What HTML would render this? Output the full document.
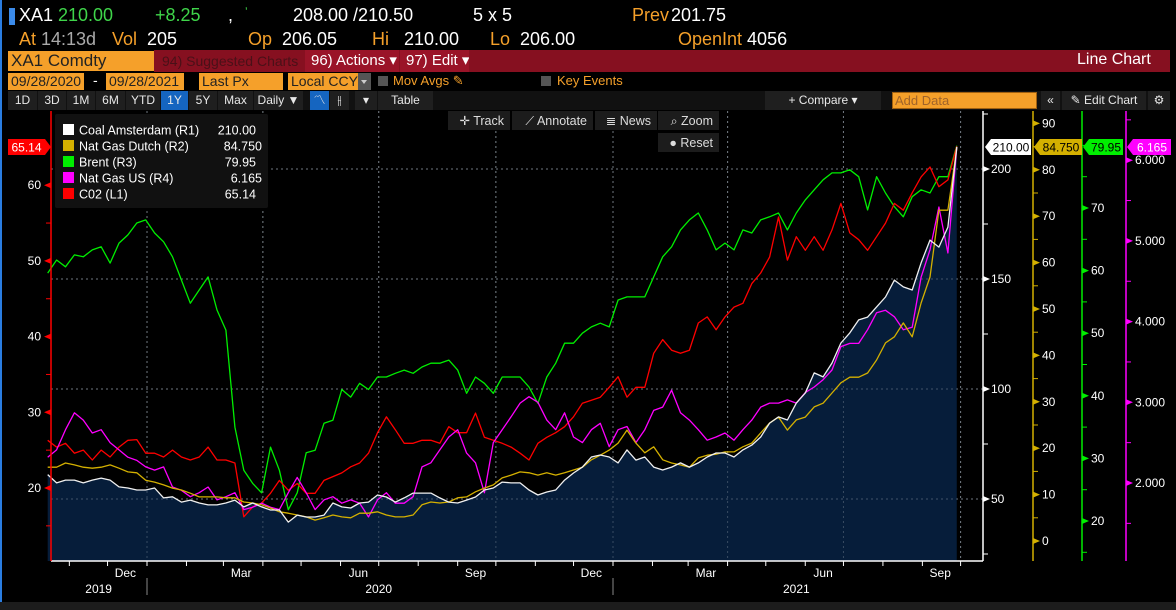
<!DOCTYPE html>
<html><head><meta charset="utf-8">
<style>
body{margin:0;background:#000;width:1176px;height:610px;overflow:hidden;position:relative;font-family:"Liberation Sans",sans-serif;}
.t{position:absolute;white-space:nowrap;}
.o{color:#f5a02a}.w{color:#fff}.g{color:#3fd54a}
.r1{font-size:18px;top:5px}
.r2{font-size:18px;top:29px}
.btn{position:absolute;top:91px;height:19px;background:#1f1f1f;color:#e8e8e8;font-size:12px;line-height:19px;text-align:center}
.ob{position:absolute;background:#f5a02a;color:#222;font-size:14px;line-height:17px;padding-left:3px;box-sizing:border-box;overflow:hidden;white-space:nowrap}
</style></head><body>
<div style="position:absolute;left:0;top:0;width:2px;height:602px;background:#2a7de1"></div>
<div style="position:absolute;left:9px;top:8px;width:6px;height:17px;background:#3b8bea"></div>
<div class="t r1 w" style="left:19px">XA1</div>
<div class="t r1 g" style="left:58px">210.00</div>
<div class="t r1 g" style="left:155px">+8.25</div>
<div class="t r1 w" style="left:228px">,</div>
<div class="t r1 g" style="left:245px;font-size:12px">ʼ</div>
<div class="t r1 w" style="left:293px">208.00 /210.50</div>
<div class="t r1 w" style="left:473px">5 x 5</div>
<div class="t r1 o" style="left:632px">Prev</div>
<div class="t r1 w" style="left:671px">201.75</div>
<div class="t r2 o" style="left:19px">At <span style="color:#aaa">14:13d</span></div>
<div class="t r2 o" style="left:112px">Vol <span class="w">&nbsp;205</span></div>
<div class="t r2 o" style="left:248px">Op <span class="w">&nbsp;206.05</span></div>
<div class="t r2 o" style="left:372px">Hi <span class="w">&nbsp;&nbsp;210.00</span></div>
<div class="t r2 o" style="left:490px">Lo <span class="w">&nbsp;206.00</span></div>
<div class="t r2 o" style="left:678px">OpenInt <span class="w">4056</span></div>

<div style="position:absolute;left:154px;top:50px;width:1016px;height:22px;background:#861020"></div>
<div class="ob" style="left:8px;top:51px;width:146px;height:20px;font-size:17px;line-height:20px">XA1 Comdty</div>
<div class="t" style="left:162px;top:53px;font-size:14px;color:#4a1018">94) Suggested Charts</div>
<div style="position:absolute;left:305px;top:50px;width:94px;height:22px;background:#9a1428;color:#fff;font-size:15px;line-height:22px;padding-left:6px;box-sizing:border-box;white-space:nowrap;overflow:hidden">96) Actions ▾</div>
<div style="position:absolute;left:400px;top:50px;width:69px;height:22px;background:#9a1428;color:#fff;font-size:15px;line-height:22px;padding-left:6px;box-sizing:border-box;white-space:nowrap;overflow:hidden">97) Edit ▾</div>
<div class="t w" style="left:1077px;top:51px;font-size:16px">Line Chart</div>

<div class="ob" style="left:8px;top:73px;width:76px;height:17px">09/28/2020</div>
<div class="t" style="left:93px;top:72px;color:#fff;font-size:14px">-</div>
<div class="ob" style="left:106px;top:73px;width:78px;height:17px">09/28/2021</div>
<div class="ob" style="left:199px;top:73px;width:84px;height:17px">Last Px</div>
<div class="ob" style="left:288px;top:73px;width:70px;height:17px">Local CCY</div>
<div style="position:absolute;left:358px;top:73px;width:13px;height:17px;background:#555"><div style="position:absolute;left:3px;top:7px;width:0;height:0;border-left:3px solid transparent;border-right:3px solid transparent;border-top:4px solid #ccc"></div></div>
<div style="position:absolute;left:378px;top:76px;width:10px;height:10px;background:#555"></div>
<div class="t o" style="left:393px;top:73px;font-size:13px">Mov Avgs ✎</div>
<div style="position:absolute;left:541px;top:76px;width:10px;height:10px;background:#555"></div>
<div class="t o" style="left:557px;top:73px;font-size:13px">Key Events</div>

<div style="position:absolute;left:8px;top:91px;width:1162px;height:19px;background:#111"></div>
<div class="btn" style="left:8px;width:29px">1D</div>
<div class="btn" style="left:38px;width:28px">3D</div>
<div class="btn" style="left:67px;width:28px">1M</div>
<div class="btn" style="left:96px;width:29px">6M</div>
<div class="btn" style="left:126px;width:34px">YTD</div>
<div class="btn" style="left:161px;width:27px;background:#1565c0">1Y</div>
<div class="btn" style="left:189px;width:28px">5Y</div>
<div class="btn" style="left:218px;width:35px">Max</div>
<div class="btn" style="left:254px;width:49px">Daily ▼</div>
<div class="btn" style="left:310px;width:19px;background:#1565c0">〽</div>
<div class="btn" style="left:330px;width:19px">⫲</div>
<div class="btn" style="left:355px;width:22px">▾</div>
<div class="btn" style="left:378px;width:55px">Table</div>
<div class="btn" style="left:765px;width:116px">+ Compare ▾</div>
<div style="position:absolute;left:892px;top:92px;width:145px;height:17px;background:#f5a02a;border:1px solid #a06010;box-sizing:border-box;color:#a0642a;font-size:13px;line-height:15px;padding-left:2px">Add Data</div>
<div class="btn" style="left:1041px;width:19px">«</div>
<div class="btn" style="left:1062px;width:84px">✎ Edit Chart</div>
<div class="btn" style="left:1148px;width:22px">⚙</div>

<svg id="chart" width="1176" height="610" style="position:absolute;left:0;top:0" font-family="Liberation Sans, sans-serif"></svg>

<div style="position:absolute;left:0;top:602px;width:1176px;height:8px;background:#1c1c1c"></div>

<script>
const weeks = Array.from({length:103},(_,i)=>i);
const coal = [61.1,57.3,58.6,58.6,57.3,58.6,59.5,58.6,55.5,55,54.1,54.1,55,50.5,51,48.6,49.5,48.2,47.3,47.3,48.2,49.5,46.4,48.2,46.4,45,45,39.5,42.7,41.8,41.8,42.7,48.2,46.4,45.9,48.2,48.6,51.8,50.9,48.6,50.5,52.7,52.7,52.7,50.5,48.6,48.2,49.5,50.9,54.1,55,57.7,57.3,57.3,54.1,51.8,53.2,54.1,58.6,61.8,64.5,69.1,70,69.1,66.4,72.3,67.7,69.1,64.5,63.2,64.5,66.4,64.5,66.4,69.1,70.9,70.9,69.1,72.3,74.5,78.2,84.5,87.3,85.9,93.6,98.2,107.3,105.5,111.8,120.9,125.5,131.4,132.7,137.3,141.8,149.5,146.4,145,157.3,167.7,164.5,173.6,210];
const gasDutch = [15.9,15.9,16.8,16.4,15.9,15.7,15.9,16.4,15.7,14.9,14.7,13.1,12.7,12.1,11.4,11,10.3,9.5,9.5,9.5,9.3,9.3,8.4,8.2,7.8,7.1,6.3,6,5.6,5.2,4.5,5,5.6,5.2,5,6,6,6.3,5.6,5.2,5.2,5.6,7.8,8.4,8.2,8.4,9.3,9.5,10.6,11.4,12.1,13.6,14.2,14.9,14.7,14.2,14.7,14.2,14.7,15.3,15.9,17.5,18.5,19.6,21.1,23.9,21.1,19,20.3,17.5,16.8,16.4,15.9,17.9,18.5,18.7,19.2,19.2,20.3,21.1,23.3,25.4,26.7,23.9,26.1,26.7,28.9,29.7,31.9,34.1,35.3,35.3,36.2,39,42.7,44,47,44,51.3,56.9,71.3,71.3,84.75];
const brent = [59.6,61.7,60.6,62.5,62.2,63.3,63.8,61.2,64.4,65.7,67.6,68.1,66,64.6,62.2,58.5,54.8,56.9,59,53.7,50.5,35,28.1,26,24.5,31.8,28.1,21.8,24.5,30.9,31.3,35.6,36.1,41,39.8,42,41,43,43,43.6,44.1,43.6,44.6,45.2,45.2,45.7,44.1,40.4,43,42,40.4,43,43,43,41.4,38.8,43,45.2,48.4,48.4,50,51,51.6,51,55.3,55.8,55.8,55.8,59,62.2,63.8,66.5,68.1,69.2,66.5,63.3,64.4,63.3,66.5,66,68.1,68.6,69.2,66.5,69.2,71.3,72.9,74.5,75.6,75.6,76.1,75,69.7,75,72.4,70.2,68.6,71.8,72.9,72.4,75,75,79.95];
const gasUS = [2.32,2.41,2.66,2.87,2.78,2.62,2.66,2.5,2.41,2.32,2.28,2.2,2.16,2.2,1.95,1.91,1.83,1.88,1.95,1.79,1.83,1.88,1.67,1.7,1.75,1.7,1.67,1.88,2.07,1.88,1.67,1.79,1.83,1.75,1.79,1.75,1.58,1.79,1.88,1.75,1.75,1.83,2.2,2.25,2.41,2.57,2.66,2.37,2.25,1.88,2.5,2.66,2.82,2.99,3.07,3.0,2.78,2.66,2.87,2.57,2.5,2.66,2.74,2.45,2.66,2.7,2.5,2.66,2.9,2.94,3.15,2.87,2.78,2.66,2.53,2.57,2.62,2.53,2.66,2.78,2.94,2.99,2.99,3.03,2.99,3.12,3.19,3.28,3.4,3.69,3.73,3.73,3.9,4.11,4.14,4.06,3.9,3.93,4.55,4.89,5.42,4.85,6.165];
const co2 = [26.3,25.4,25.9,24.6,25,23.7,25,24.1,25.4,26.3,26.4,24.6,24.6,24.1,25,24.1,23.7,24.1,25.4,23.7,23.7,23.3,16.2,17.5,18,19.3,21,19.7,20.6,19.3,19.3,21,21.5,22,22.8,23.3,24.6,27.3,29.4,27.7,25.9,25.9,26.3,26.3,25.9,28.1,27.3,27.3,29.9,26.7,26.3,25.9,25.4,24.6,23.7,25.9,26.7,27.3,28.1,29.4,31.2,31.6,32,33.3,34.7,32,33.3,33.3,37.8,39.6,38.2,37.8,38.2,41.8,42.6,40.9,42.6,43.9,44.4,47,48.4,50.5,55.8,50.1,53.2,51.4,53.2,51.4,54.1,57.6,53.7,52.8,51.4,53.2,55,57.6,56.7,59,61.1,62.4,59.8,60.7,65.14];
const monthLabels = ["Dec","Mar","Jun","Sep","Dec","Mar","Jun","Sep"];
const monthLabelDays = [61,152,244,336,427,517,609,701];
const yearLabels = ["2019","2020","2021"];
const yearLabelDays = [40,260,588];
const l1Ticks = [20,30,40,50,60];
const r1Ticks = [50,100,150,200];
const r2Ticks = [0,10,20,30,40,50,60,70,80,90];
const r3Ticks = [20,30,40,50,60,70];
const r4Ticks = [2,3,4,5,6];

const NS="http://www.w3.org/2000/svg";
const svg=document.getElementById('chart');
function mk(tag,attrs,parent){const e=document.createElementNS(NS,tag);for(const k in attrs)e.setAttribute(k,attrs[k]);(parent||svg).appendChild(e);return e;}
const X0=51,X1=983,Y0=111,YB=561;
const xDay=d=>47.7+d*1.2732;
const xW=w=>xDay(w*7);
const yL1=v=>488-(v-20)*7.57;
const yR1=v=>169+(200-v)*2.2;
const yR2=v=>541-v*4.64;
const yR3=v=>521-(v-20)*6.26;
const yR4=v=>483-(v-2)*80.7;

const monthStarts=[17,47,78,109,138,169,199,230,260,291,322,352,383,413,444,475,503,534,564,595,625,656,687,717];
const quarterDays=[78,169,260,352,444,534,625,717];
quarterDays.forEach(d=>{
 const l=mk('line',{x1:xDay(d),x2:xDay(d),y1:Y0,y2:YB,stroke:'#777','stroke-dasharray':'2,3','stroke-width':1});
 
 
});
r1Ticks.forEach(v=>{
 const l=mk('line',{x1:X0,x2:X1,y1:yR1(v),y2:yR1(v),stroke:'#777','stroke-dasharray':'2,3','stroke-width':1});
 
 
});

let ap='M'+xW(0)+','+YB;
weeks.forEach(w=>{ap+=' L'+xW(w).toFixed(1)+','+yR1(coal[w]).toFixed(1);});
ap+=' L'+xW(weeks.length-1)+','+YB+' Z';
const area=mk('path',{d:ap,fill:'#061d3a'});


r1Ticks.forEach(v=>{mk('line',{x1:X0,x2:X1,y1:yR1(v),y2:yR1(v),stroke:'#6a7a8a','stroke-dasharray':'2,3','stroke-width':1,opacity:0.6});});
quarterDays.forEach(d=>{mk('line',{x1:xDay(d),x2:xDay(d),y1:Y0,y2:YB,stroke:'#6a7a8a','stroke-dasharray':'2,3',opacity:0.5});});

function line(arr,fy,color,name){
 let d='';weeks.forEach(w=>{d+=(w?' L':'M')+xW(w).toFixed(1)+','+fy(arr[w]).toFixed(1);});
 const p=mk('path',{d:d,fill:'none',stroke:color,'stroke-width':1.3,'stroke-linejoin':'round'});
 
 
}
line(brent,yR3,'#00ee00','brent-line');
line(co2,yL1,'#ff0000','co2-line');
line(gasUS,yR4,'#ff00ff','nat-gas-us-line');
line(gasDutch,yR2,'#d4b000','nat-gas-dutch-line');
line(coal,yR1,'#f0f0f0','coal-line');

mk('line',{x1:X0,x2:X1,y1:YB,y2:YB,stroke:'#fff','stroke-width':1.5});
monthStarts.forEach(d=>{const t=mk('line',{x1:xDay(d),x2:xDay(d),y1:YB,y2:YB+5,stroke:'#fff'});
 
 });
monthLabels.forEach((m,i)=>{const t=mk('text',{x:xDay(monthLabelDays[i]),y:577,fill:'#fff','font-size':12,'text-anchor':'middle'});t.textContent=m;
 
 });
yearLabels.forEach((m,i)=>{const t=mk('text',{x:xDay(yearLabelDays[i]),y:593,fill:'#fff','font-size':12,'text-anchor':'middle'});t.textContent=m;
 
 });
[78,444].forEach(d=>mk('line',{x1:xDay(d),x2:xDay(d),y1:578,y2:595,stroke:'#888'}));

function axis(x,color,ticks,fy,minorStep,range,fmt,labelX,anchor,arrowDir,name){
 const a=mk('line',{x1:x,x2:x,y1:Y0,y2:YB,stroke:color,'stroke-width':1.5});
 
 
 for(let v=range[0];v<=range[1]+1e-9;v+=minorStep){const y=fy(v);if(y<Y0||y>YB)continue;
  mk('line',{x1:arrowDir>0?x:x-5,x2:arrowDir>0?x+5:x,y1:y,y2:y,stroke:color});}
 ticks.forEach(v=>{const y=fy(v);
  const p=arrowDir>0?`M${x},${y-3} L${x+7},${y} L${x},${y+3}Z`:`M${x},${y-3} L${x-7},${y} L${x},${y+3}Z`;
  mk('path',{d:p,fill:color});
  const t=mk('text',{x:labelX,y:y+4,fill:'#fff','font-size':12,'text-anchor':anchor});t.textContent=fmt(v);
  
  
 });
}
axis(X0,'#ff0000',l1Ticks,yL1,5,[15,65],v=>String(v),41,'end',-1,'left-axis-co2');
axis(X1,'#ffffff',r1Ticks,yR1,25,[25,225],v=>String(v),991,'start',1,'right-axis-coal');
axis(1033,'#d4b000',r2Ticks,yR2,5,[-5,95],v=>String(v),1042,'start',1,'right-axis-dutch-gas');
axis(1082,'#00ee00',r3Ticks,yR3,5,[15,80],v=>String(v),1091,'start',1,'right-axis-brent');
axis(1126,'#ff00ff',r4Ticks,yR4,0.5,[1.5,6.5],v=>v.toFixed(3),1135,'start',1,'right-axis-us-gas');

function badge(x,w,y,bg,fg,txt,name,leftArrow){
 const p=leftArrow?`M${x},${y} L${x+6},${y-8} L${x+w},${y-8} L${x+w},${y+8} L${x+6},${y+8}Z`:`M${x},${y-8} L${x+w-6},${y-8} L${x+w},${y} L${x+w-6},${y+8} L${x},${y+8}Z`;
 const g=mk('g',{});
 mk('path',{d:p,fill:bg},g);
 const t=mk('text',{x:x+w/2+(leftArrow?3:-3),y:y+4.5,fill:fg,'font-size':12,'text-anchor':'middle'},g);t.textContent=txt;
}
badge(985,46,147,'#ffffff','#000','210.00','coal-value-badge',true);
badge(1034,48,147,'#d4b000','#000','84.750','dutch-gas-value-badge',true);
badge(1083,40,147,'#00ee00','#000','79.95','brent-value-badge',true);
badge(1127,44,147,'#ff00ff','#fff','6.165','us-gas-value-badge',true);
badge(8,43,147,'#ff0000','#fff','65.14','co2-value-badge',false);

const lg=mk('g',{});
mk('rect',{x:55,y:114,width:213,height:94,fill:'#111',rx:2},lg);
const legendNames=['Coal Amsterdam (R1)','Nat Gas Dutch (R2)','Brent (R3)','Nat Gas US (R4)','C02  (L1)'];
const legendVals=['210.00','84.750','79.95','6.165','65.14'];
const legendCols=['#ffffff','#d4b000','#00ee00','#ff00ff','#ff0000'];
legendNames.forEach((n,i)=>{const y=130+i*16;
 const e=mk('g',{},lg);
 mk('rect',{x:63,y:y-6,width:11,height:11,fill:legendCols[i]},e);
 const t=mk('text',{x:79,y:y+4.5,fill:'#fff','font-size':12.5},e);t.textContent=n;
 const v=mk('text',{x:i==1||i==3?262:256,y:y+4.5,fill:'#fff','font-size':12.5,'text-anchor':'end'},e);v.textContent=legendVals[i];
});

function tool(x,y,w,txt,name){const g=mk('g',{});
 mk('rect',{x:x,y:y,width:w,height:19,fill:'#1c1c1c'},g);
 const t=mk('text',{x:x+w-6,y:y+14,fill:'#ddd','font-size':12.5,'text-anchor':'end'},g);t.textContent=txt;}
tool(448,111,62,'✛ Track','track-button');
tool(512,111,81,'⟋ Annotate','annotate-button');
tool(595,111,62,'≣ News','news-button');
tool(658,111,61,'⌕ Zoom','zoom-button');
tool(658,133,61,'● Reset','reset-button');
</script>
</body></html>
